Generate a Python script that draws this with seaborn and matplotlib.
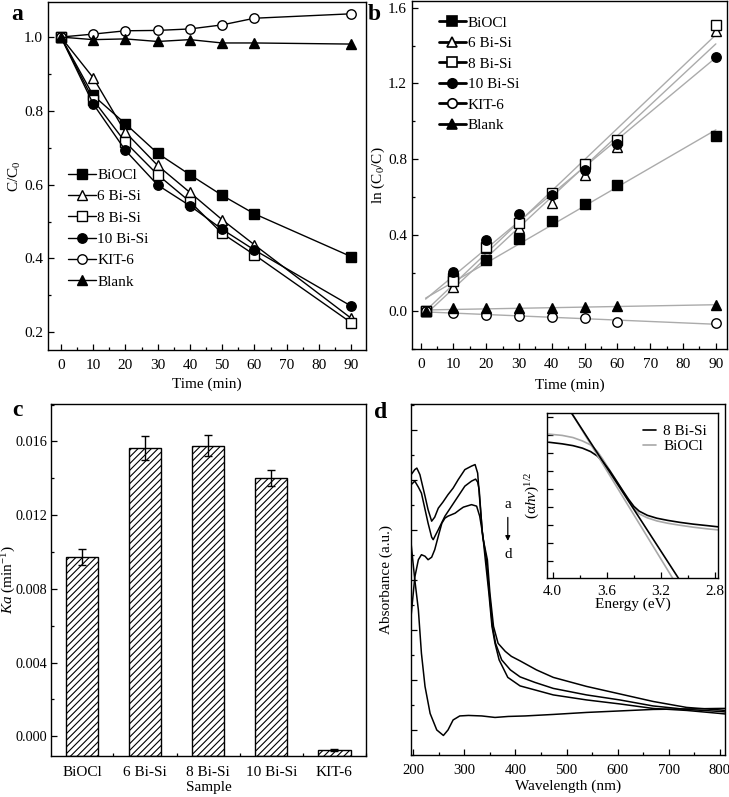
import numpy as np
import pandas as pd
import matplotlib
matplotlib.use("Agg")
import matplotlib.pyplot as plt
import seaborn as sns
from matplotlib.lines import Line2D
from matplotlib.ticker import MultipleLocator, FormatStrFormatter, NullFormatter

# ---------------- data ----------------
series_names = ["BiOCl", "6 Bi-Si", "8 Bi-Si", "10 Bi-Si", "KIT-6", "Blank"]

# panel a : C/C0 vs time
time_a = [0, 10, 20, 30, 40, 50, 60, 90]
biocl_a = [1.0, 0.842, 0.765, 0.685, 0.627, 0.571, 0.521, 0.405]
bisi6_a = [1.0, 0.890, 0.742, 0.652, 0.579, 0.505, 0.437, 0.238]
bisi8_a = [1.0, 0.830, 0.715, 0.627, 0.554, 0.468, 0.410, 0.226]
bisi10_a = [1.0, 0.819, 0.693, 0.599, 0.543, 0.479, 0.423, 0.271]
kit6_a = [1.0, 1.008, 1.017, 1.018, 1.022, 1.033, 1.051, 1.063]
blank_a = [1.0, 0.993, 0.995, 0.988, 0.993, 0.984, 0.984, 0.981]

# panel b : ln(C0/C) vs time
time_b = [1.5, 10, 20, 30, 40, 50, 60, 90]
biocl_b = [0.0, 0.175, 0.268, 0.379, 0.475, 0.567, 0.663, 0.921]
bisi6_b = [0.0, 0.125, 0.330, 0.440, 0.570, 0.716, 0.865, 1.479]
bisi8_b = [0.0, 0.160, 0.339, 0.465, 0.623, 0.774, 0.900, 1.510]
bisi10_b = [0.0, 0.207, 0.374, 0.514, 0.610, 0.745, 0.880, 1.340]
kit6_b = [0.0, -0.012, -0.021, -0.026, -0.030, -0.039, -0.056, -0.065]
blank_b = [0.0, 0.014, 0.014, 0.014, 0.014, 0.023, 0.026, 0.032]

# panel c : rate constants
samples = ["BiOCl", "6 Bi-Si", "8 Bi-Si", "10 Bi-Si", "KIT-6"]
ka = [0.00971, 0.01564, 0.01577, 0.01401, -0.00076]
ka_err = [0.00043, 0.00063, 0.00056, 0.00043, 0.00005]

# panel d : UV-vis spectra (arbitrary units)
wl_a = [196, 203, 207, 213, 223, 229, 236, 242, 249, 258, 268, 278, 288, 301, 314, 321,
        326, 330, 336, 345, 350, 357, 366, 380, 392, 409, 441, 474, 539, 604, 669, 735, 800, 810]
abs_a = [5.10, 5.20, 5.23, 5.10, 4.67, 4.40, 4.17, 4.25, 4.43, 4.55, 4.70, 4.83, 5.00, 5.20, 5.27, 5.30,
         5.13, 4.60, 3.85, 3.40, 2.73, 2.07, 1.73, 1.57, 1.47, 1.38, 1.20, 1.05, 0.87, 0.72, 0.57, 0.45, 0.40, 0.39]
wl_b = [196, 203, 210, 216, 229, 236, 239, 249, 262, 275, 288, 301, 314, 322, 326, 329,
        335, 343, 349, 355, 361, 373, 390, 409, 438, 474, 539, 604, 669, 735, 800, 810]
abs_b = [4.90, 4.97, 4.85, 4.73, 4.13, 3.85, 3.80, 4.00, 4.27, 4.47, 4.67, 4.87, 4.97, 5.01, 4.95, 4.80,
         3.95, 3.40, 2.73, 2.07, 1.73, 1.40, 1.20, 1.06, 0.95, 0.83, 0.70, 0.60, 0.48, 0.41, 0.37, 0.36]
wl_c = [196, 203, 210, 216, 223, 229, 236, 242, 249, 256, 262, 268, 282, 291, 298, 314, 324,
        330, 336, 341, 348, 354, 360, 368, 385, 409, 438, 474, 539, 604, 669, 735, 800, 810]
abs_c = [2.30, 3.05, 3.40, 3.50, 3.47, 3.40, 3.45, 3.60, 3.87, 4.13, 4.23, 4.27, 4.33, 4.40, 4.45, 4.50, 4.47,
         4.27, 3.90, 3.40, 2.73, 2.07, 1.73, 1.40, 1.05, 0.88, 0.80, 0.70, 0.60, 0.52, 0.43, 0.39, 0.33, 0.32]
wl_d = [196, 203, 210, 216, 223, 233, 246, 259, 268, 278, 291, 308, 334, 360, 386, 419,
        474, 539, 604, 669, 735, 800, 810]
abs_d = [3.70, 3.00, 2.40, 1.53, 0.87, 0.33, 0.00, -0.11, 0.00, 0.20, 0.28, 0.29, 0.28, 0.25, 0.27, 0.28,
         0.31, 0.35, 0.38, 0.41, 0.42, 0.43, 0.43]

# inset : Tauc plot
ev_inset = [4.03, 3.93, 3.85, 3.78, 3.72, 3.67, 3.63, 3.58, 3.53, 3.48, 3.44, 3.40, 3.36, 3.30,
            3.23, 3.15, 3.06, 2.96, 2.86, 2.776]
tauc_8bisi = [7.59, 7.50, 7.40, 7.26, 7.07, 6.82, 6.51, 6.02, 5.45, 4.87, 4.42, 4.02, 3.75, 3.52,
              3.36, 3.24, 3.13, 3.03, 2.95, 2.88]
tauc_biocl = [8.04, 7.97, 7.85, 7.66, 7.44, 7.08, 6.65, 6.05, 5.45, 4.85, 4.35, 3.92, 3.60, 3.38,
              3.21, 3.08, 2.97, 2.86, 2.77, 2.71]
tangent_8bisi_x = [3.95, 3.00]
tangent_8bisi_y = [10.25, -0.80]
tangent_biocl_x = [3.95, 3.05]
tangent_biocl_y = [10.32, -0.76]

# ---------------- style ----------------
sns.set_style("ticks")
plt.rcParams.update({
    "font.family": ["Liberation Serif", "DejaVu Serif"],
    "mathtext.fontset": "custom",
    "mathtext.rm": "Liberation Serif",
    "mathtext.it": "Liberation Serif:italic",
    "mathtext.bf": "Liberation Serif:bold",
    "font.size": 11,
    "axes.labelsize": 11,
    "xtick.labelsize": 11,
    "ytick.labelsize": 11,
    "axes.linewidth": 1.0,
    "axes.edgecolor": "black",
    "axes.labelcolor": "black",
    "text.color": "black",
    "xtick.color": "black",
    "ytick.color": "black",
    "xtick.direction": "in",
    "ytick.direction": "in",
    "xtick.major.size": 4,
    "ytick.major.size": 4,
    "xtick.minor.size": 2.5,
    "ytick.minor.size": 2.5,
    "xtick.major.width": 0.9,
    "ytick.major.width": 0.9,
    "xtick.minor.width": 0.9,
    "ytick.minor.width": 0.9,
    "xtick.major.pad": 6.5,
    "hatch.color": "black",
    "hatch.linewidth": 0.8,
})

W, H = 729, 797
fig = plt.figure(figsize=(W / 100, H / 100), dpi=100)


def axes_px(left, top, right, bottom):
    return fig.add_axes([left / W, 1 - bottom / H, (right - left) / W, (bottom - top) / H])


def place_labels(ax, left, right, top, bottom, ylab_x=None, xlab_y=None):
    # put axis labels at given pixel centres
    if ylab_x is not None:
        ax.yaxis.set_label_coords((ylab_x - left) / (right - left), 0.5)
    if xlab_y is not None:
        ax.xaxis.set_label_coords(0.5, (bottom - xlab_y) / (bottom - top))


markers = ["s", "^", "s", "o", "o", "^"]
faces = ["black", "white", "white", "black", "white", "black"]
msize = 6.8

# ---------------- panel a ----------------
ax_a = axes_px(48, 2, 366, 350)
data_a = [biocl_a, bisi6_a, bisi8_a, bisi10_a, kit6_a, blank_a]
for name, vals, m, fc in zip(series_names, data_a, markers, faces):
    sns.lineplot(x=time_a, y=vals, ax=ax_a, color="black", lw=1, marker=m, markersize=msize,
                 markerfacecolor=fc, markeredgecolor="black", markeredgewidth=1, label=name)
ax_a.set_xlim(-4, 94.6)
ax_a.set_ylim(0.152, 1.095)
ax_a.xaxis.set_major_locator(MultipleLocator(10))
ax_a.xaxis.set_minor_locator(MultipleLocator(5))
ax_a.yaxis.set_major_locator(MultipleLocator(0.2))
ax_a.yaxis.set_minor_locator(MultipleLocator(0.1))
ax_a.yaxis.set_major_formatter(FormatStrFormatter("%.1f"))
ax_a.set_xlabel("Time (min)", va="center")
ax_a.set_ylabel(r"C/C$_\mathregular{0}$", va="center")
place_labels(ax_a, 48, 366, 2, 350, ylab_x=15, xlab_y=384)
ax_a.legend(loc="upper left", bbox_to_anchor=(0.045, 0.54), frameon=False, borderaxespad=0,
            handlelength=1.8, handletextpad=0.1, labelspacing=0.5, fontsize=11)

# ---------------- panel b ----------------
ax_b = axes_px(412, 1, 727, 349)
data_b = [biocl_b, bisi6_b, bisi8_b, bisi10_b, kit6_b, blank_b]
for vals in data_b:
    sns.regplot(x=time_b, y=vals, ax=ax_b, scatter=False, ci=None, truncate=True,
                color="#ababab", line_kws={"lw": 1})
for name, vals, m, fc in zip(series_names, data_b, markers, faces):
    sns.lineplot(x=time_b, y=vals, ax=ax_b, color="black", linestyle="none", marker=m,
                 markersize=msize, markerfacecolor=fc, markeredgecolor="black", markeredgewidth=1)
ax_b.set_xlim(-2.65, 93.4)
ax_b.set_ylim(-0.2, 1.635)
ax_b.xaxis.set_major_locator(MultipleLocator(10))
ax_b.xaxis.set_minor_locator(MultipleLocator(5))
ax_b.yaxis.set_major_locator(MultipleLocator(0.4))
ax_b.yaxis.set_minor_locator(MultipleLocator(0.2))
ax_b.yaxis.set_major_formatter(FormatStrFormatter("%.1f"))
ax_b.set_xlabel("Time (min)", va="center")
ax_b.set_ylabel(r"ln (C$_\mathregular{0}$/C)", va="center")
place_labels(ax_b, 412, 727, 1, 349, ylab_x=378, xlab_y=385)
handles_b = [Line2D([], [], color="black", lw=2, marker=m, markersize=msize, markerfacecolor=fc,
                    markeredgecolor="black", markeredgewidth=1.2)
             for m, fc in zip(markers, faces)]
ax_b.legend(handles_b, series_names, loc="upper left", bbox_to_anchor=(0.065, 0.975), frameon=False,
            borderaxespad=0, handlelength=1.8, handletextpad=0.1, labelspacing=0.45, fontsize=11)

# ---------------- panel c ----------------
ax_c = axes_px(51, 404, 366, 756)
c_ylim = (-0.00107, 0.01803)
sns.barplot(x=samples, y=ka, ax=ax_c, color="white", edgecolor="black", linewidth=1.0,
            width=0.51, hatch="/////", errorbar=None, saturation=1)
for p in ax_c.patches:
    top = p.get_y() + p.get_height()
    p.set_y(c_ylim[0])
    p.set_height(top - c_ylim[0])
    p.set_facecolor("white")
ax_c.errorbar(x=np.arange(len(samples)), y=ka, yerr=ka_err, fmt="none", ecolor="black",
              elinewidth=1, capsize=3, capthick=1, zorder=5)
ax_c.set_ylim(*c_ylim)
ax_c.set_xlim(-0.49, 4.5)
ax_c.yaxis.set_major_locator(MultipleLocator(0.004))
ax_c.yaxis.set_minor_locator(MultipleLocator(0.002))
ax_c.yaxis.set_major_formatter(FormatStrFormatter("%.3f"))
ax_c.xaxis.set_minor_locator(MultipleLocator(1, offset=0.5))
ax_c.tick_params(axis="x", which="major", length=0, pad=7.5)
ax_c.tick_params(axis="y", which="major", labelsize=10.3, pad=2.5)
ax_c.set_xlabel("Sample", va="center")
ax_c.set_ylabel(r"$\mathit{Ka}$ (min$^\mathregular{-1}$)", va="center")
place_labels(ax_c, 51, 366, 404, 756, ylab_x=9, xlab_y=788)

# ---------------- panel d ----------------
ax_d = axes_px(410.7, 404, 725, 755)
for wl, ab in [(wl_a, abs_a), (wl_b, abs_b), (wl_c, abs_c), (wl_d, abs_d)]:
    sns.lineplot(x=wl, y=ab, ax=ax_d, color="black", lw=1.1)
ax_d.set_xlim(195, 810)
ax_d.set_ylim(-0.5, 6.51)
ax_d.xaxis.set_major_locator(MultipleLocator(100))
ax_d.xaxis.set_minor_locator(MultipleLocator(50))
ax_d.yaxis.set_major_locator(MultipleLocator(1))
ax_d.yaxis.set_minor_locator(MultipleLocator(0.5))
ax_d.yaxis.set_major_formatter(NullFormatter())
ax_d.tick_params(axis="x", which="major", labelsize=10.6)
ax_d.set_xlabel("Wavelength (nm)", va="center")
ax_d.set_ylabel("Absorbance (a.u.)", va="center")
place_labels(ax_d, 410.7, 725, 404, 755, ylab_x=386, xlab_y=786)
ax_d.text(385, 4.5, "a", ha="center", va="center", fontsize=11)
ax_d.text(385, 3.5, "d", ha="center", va="center", fontsize=11)
ax_d.annotate("", xy=(385, 3.72), xytext=(385, 4.3),
              arrowprops=dict(arrowstyle="-|>", color="black", lw=0.9, mutation_scale=7))

# inset
ax_i = axes_px(547.3, 413.3, 718.3, 577.7)
sns.lineplot(x=ev_inset, y=tauc_biocl, ax=ax_i, color="#a8a8a8", lw=1.2, label="BiOCl")
sns.lineplot(x=ev_inset, y=tauc_8bisi, ax=ax_i, color="black", lw=1.2, label="8 Bi-Si")
sns.lineplot(x=tangent_biocl_x, y=tangent_biocl_y, ax=ax_i, color="#a8a8a8", lw=1.2)
sns.lineplot(x=tangent_8bisi_x, y=tangent_8bisi_y, ax=ax_i, color="black", lw=1.2)
ax_i.set_xlim(4.04, 2.776)
ax_i.set_ylim(0.05, 9.2)
ax_i.xaxis.set_major_locator(MultipleLocator(0.4))
ax_i.xaxis.set_minor_locator(MultipleLocator(0.2))
ax_i.xaxis.set_major_formatter(FormatStrFormatter("%.1f"))
ax_i.yaxis.set_major_locator(MultipleLocator(1))
ax_i.yaxis.set_minor_locator(MultipleLocator(0.5))
ax_i.yaxis.set_major_formatter(NullFormatter())
ax_i.tick_params(which="minor", axis="y", length=0)
ax_i.tick_params(axis="x", which="major", pad=5)
ax_i.set_xlabel("Energy (eV)", va="center")
ax_i.set_ylabel(r"(α$h\nu$)$^\mathregular{1/2}$", va="center")
place_labels(ax_i, 547.3, 718.3, 413.3, 577.7, ylab_x=533, xlab_y=604)
hi, li = ax_i.get_legend_handles_labels()
ax_i.legend(hi[::-1], li[::-1], loc="upper right", bbox_to_anchor=(0.97, 0.97), frameon=False,
            borderaxespad=0, handlelength=0.8, handletextpad=0.5, labelspacing=0.1, fontsize=11)

# panel letters
for letter, (px, py) in zip("abcd", [(17, 14), (374, 14), (17, 411), (381, 412)]):
    fig.text(px / W, 1 - py / H, letter, ha="center", va="center", fontsize=17, fontweight="bold")

fig.savefig("out.png", dpi=100)
